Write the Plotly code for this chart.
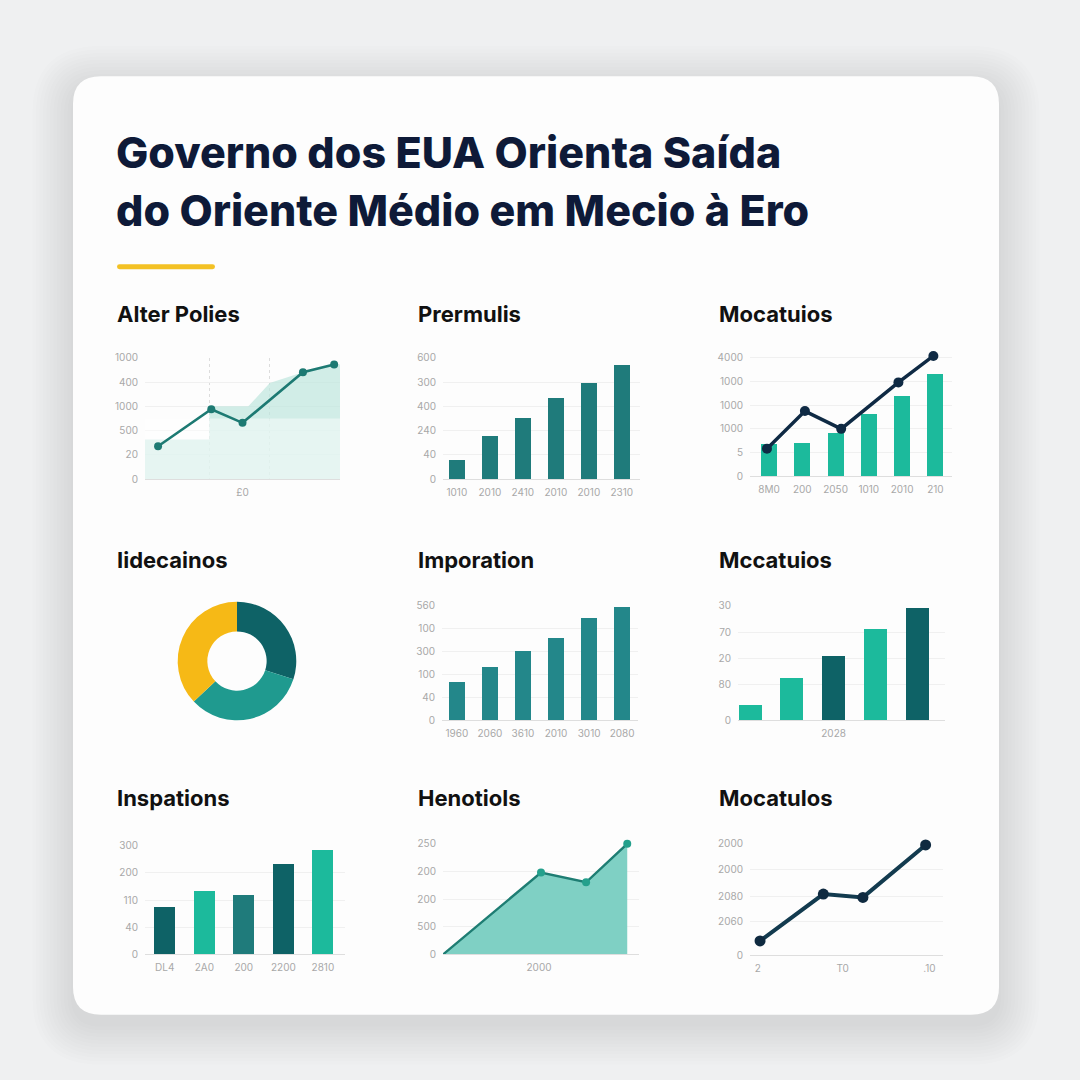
import plotly.graph_objects as go

# ---------------- data ----------------
title_lines = ["Governo dos EUA Orienta Saída", "do Oriente Médio em Mecio à Ero"]
panel_titles = ["Alter Polies", "Prermulis", "Mocatuios",
                "Iidecainos", "Imporation", "Mccatuios",
                "Inspations", "Henotiols", "Mocatulos"]

# Panel 1: line + stepped area
p1_x = [0.67, 3.4, 5.0, 8.1, 9.7]
p1_y = [272, 576, 464, 880, 944]
p1_area_x = [0, 3.3, 3.3, 5.3, 6.4, 8.1, 9.7, 10]
p1_area_y = [328, 328, 600, 600, 792, 880, 944, 944]
p1_band_x = [0, 10]
p1_band_y = [500, 500]
p1_ytickvals = [0, 200, 400, 600, 800, 1000]
p1_yticktext = ["0", "20", "500", "1000", "400", "1000"]
p1_xtickvals = [5.0]
p1_xticktext = ["£0"]
p1_vgrid = [3.3, 6.4]

# Panel 2: bars
p2_cats = [0, 1, 2, 3, 4, 5]
p2_vals = [160, 360, 504, 672, 792, 944]
p2_xticktext = ["1010", "2010", "2410", "2010", "2010", "2310"]
p2_ytickvals = [0, 200, 400, 600, 800, 1000]
p2_yticktext = ["0", "40", "240", "400", "300", "600"]

# Panel 3: bars + line
p3_cats = [0, 1, 2, 3, 4, 5]
p3_vals = [267, 275, 358, 525, 675, 858]
p3_line_x = [-0.06, 1.08, 2.17, 3.89, 4.94]
p3_line_y = [233, 550, 400, 792, 1015]
p3_xticktext = ["8M0", "200", "2050", "1010", "2010", "210"]
p3_ytickvals = [0, 200, 400, 600, 800, 1000]
p3_yticktext = ["0", "5", "1000", "1000", "1000", "4000"]

# Panel 4: donut
p4_labels = ["A", "B", "C"]
p4_vals = [30, 33, 37]

# Panel 5: bars
p5_cats = [0, 1, 2, 3, 4, 5]
p5_vals = [333, 470, 607, 718, 898, 992]
p5_xticktext = ["1960", "2060", "3610", "2010", "3010", "2080"]
p5_ytickvals = [0, 200, 400, 600, 800, 1000]
p5_yticktext = ["0", "40", "100", "300", "100", "560"]

# Panel 6: bars
p6_cats = [0, 1, 2, 3, 4]
p6_vals = [14, 37, 56, 80, 98]
p6_xtickvals = [2]
p6_xticktext = ["2028"]
p6_ytickvals = [0, 31, 54, 77, 100]
p6_yticktext = ["0", "80", "20", "70", "30"]

# Panel 7: bars
p7_cats = [0, 1, 2, 3, 4]
p7_vals = [175, 233, 218, 335, 385]
p7_xticktext = ["DL4", "2A0", "200", "2200", "2810"]
p7_ytickvals = [0, 100, 200, 300, 400]
p7_yticktext = ["0", "40", "110", "200", "300"]

# Panel 8: area
p8_x = [0, 5.0, 7.3, 9.4]
p8_y = [0, 296, 261, 400]
p8_xtickvals = [4.9]
p8_xticktext = ["2000"]
p8_ytickvals = [0, 100, 200, 300, 400]
p8_yticktext = ["0", "500", "200", "200", "250"]

# Panel 9: line
p9_x = [0.52, 3.8, 5.85, 9.1]
p9_y = [13, 55, 52, 99]
p9_xtickvals = [0.4, 4.8, 9.3]
p9_xticktext = ["2", "T0", ".10"]
p9_ytickvals = [0, 30, 53, 77, 100]
p9_yticktext = ["0", "2060", "2080", "2000", "2000"]

# ---------------- styling ----------------
W = H = 1080
FONT = "Inter, Lato, 'Noto Sans', sans-serif"
TICK_FONT = dict(family=FONT, size=10, color="#a8a8a8")
GRID = "#f0f0f0"
AXLINE = "#dedede"

DARK = "#0e6266"
MID = "#1f7b7b"
MID2 = "#23878a"
LIGHT = "#1cba9c"
NAVY = "#0f2a44"


def dom(x0, x1, yt, yb):
    return [x0 / W, x1 / W], [1 - yb / H, 1 - yt / H]


fig = go.Figure()
layout_axes = {}


def add_axes(i, box, xr, yr, xtv, xtt, ytv, ytt, extra_x=None):
    xd, yd = dom(*box)
    xa = dict(domain=xd, range=xr, anchor=f"y{i}", tickmode="array", tickvals=xtv, ticktext=xtt,
              showgrid=False, zeroline=False, showline=True, linecolor=AXLINE, linewidth=1,
              ticks="", tickfont=TICK_FONT, fixedrange=True, ticklabelstandoff=4)
    if extra_x:
        xa.update(extra_x)
    ya = dict(domain=yd, range=yr, anchor=f"x{i}", tickmode="array", tickvals=ytv, ticktext=ytt,
              showgrid=True, gridcolor=GRID, gridwidth=1, zeroline=False, showline=False,
              ticks="", tickfont=TICK_FONT, fixedrange=True, ticklabelstandoff=6)
    layout_axes[f"xaxis{i}"] = xa
    layout_axes[f"yaxis{i}"] = ya


# Panel 1
add_axes(1, (145, 340, 355, 478), [0, 10], [0, 1000], p1_xtickvals, p1_xticktext,
         p1_ytickvals, p1_yticktext,
         extra_x=dict(minor=dict(tickmode="array", tickvals=p1_vgrid, showgrid=True,
                                 gridcolor="#dcdcdc", griddash="dot", gridwidth=1, ticks="")))
fig.add_trace(go.Scatter(x=p1_area_x, y=p1_area_y, mode="lines", fill="tozeroy",
                         fillcolor="rgba(190,229,221,0.7)", line=dict(width=0),
                         xaxis="x1", yaxis="y1", hoverinfo="skip"))
fig.add_trace(go.Scatter(x=p1_band_x, y=p1_band_y, mode="lines", fill="tozeroy",
                         fillcolor="rgba(255,255,255,0.45)", line=dict(width=0),
                         xaxis="x1", yaxis="y1", hoverinfo="skip"))
fig.add_trace(go.Scatter(x=p1_x, y=p1_y, mode="lines+markers",
                         line=dict(color="#1d7a73", width=2.6),
                         marker=dict(color="#1d7a73", size=8), cliponaxis=False,
                         xaxis="x1", yaxis="y1"))

# Panel 2
add_axes(2, (443, 640, 355, 478), [-0.42, 5.55], [0, 1000], p2_cats, p2_xticktext,
         p2_ytickvals, p2_yticktext)
fig.add_trace(go.Bar(x=p2_cats, y=p2_vals, width=0.48, marker=dict(color=MID, line=dict(width=0)),
                     xaxis="x2", yaxis="y2"))

# Panel 3
add_axes(3, (750, 952, 352.6, 475), [-0.57, 5.5], [0, 1020], p3_cats, p3_xticktext,
         p3_ytickvals, p3_yticktext)
fig.add_trace(go.Bar(x=p3_cats, y=p3_vals, width=0.48, marker=dict(color=LIGHT, line=dict(width=0)),
                     xaxis="x3", yaxis="y3"))
fig.add_trace(go.Scatter(x=p3_line_x, y=p3_line_y, mode="lines+markers",
                         line=dict(color=NAVY, width=3.5),
                         marker=dict(color=NAVY, size=10), cliponaxis=False,
                         xaxis="x3", yaxis="y3"))

# Panel 4 donut
pd_x, pd_y = dom(177, 297, 602, 722)
fig.add_trace(go.Pie(labels=p4_labels, values=p4_vals, hole=0.5, sort=False,
                     direction="clockwise", rotation=0, textinfo="none",
                     marker=dict(colors=[DARK, "#1f9a8f", "#f6b916"], line=dict(width=0)),
                     domain=dict(x=pd_x, y=pd_y), showlegend=False))

# Panel 5
add_axes(5, (442, 638, 606, 722), [-0.45, 5.48], [0, 1000], p5_cats, p5_xticktext,
         p5_ytickvals, p5_yticktext)
fig.add_trace(go.Bar(x=p5_cats, y=p5_vals, width=0.48, marker=dict(color=MID2, line=dict(width=0)),
                     xaxis="x5", yaxis="y5"))

# Panel 6
add_axes(6, (738, 945, 606, 722), [-0.29, 4.67], [0, 100], p6_xtickvals, p6_xticktext,
         p6_ytickvals, p6_yticktext)
fig.add_trace(go.Bar(x=p6_cats, y=p6_vals, width=0.55,
                     marker=dict(color=[LIGHT, LIGHT, DARK, LIGHT, DARK], line=dict(width=0)),
                     xaxis="x6", yaxis="y6"))

# Panel 7
add_axes(7, (145, 345, 849, 959), [-0.5, 4.56], [0, 400], p7_cats, p7_xticktext,
         p7_ytickvals, p7_yticktext)
fig.add_trace(go.Bar(x=p7_cats, y=p7_vals, width=0.53,
                     marker=dict(color=[DARK, LIGHT, MID, DARK, LIGHT], line=dict(width=0)),
                     xaxis="x7", yaxis="y7"))

# Panel 8
add_axes(8, (443, 639, 847, 959), [0, 10], [0, 400], p8_xtickvals, p8_xticktext,
         p8_ytickvals, p8_yticktext)
fig.add_trace(go.Scatter(x=p8_x, y=p8_y, mode="lines", fill="tozeroy",
                         fillcolor="#7fd0c4", line=dict(color="#1e7d73", width=2.4),
                         xaxis="x8", yaxis="y8", hoverinfo="skip"))
fig.add_trace(go.Scatter(x=p8_x[1:], y=p8_y[1:], mode="markers",
                         marker=dict(color="#24a08c", size=8), cliponaxis=False,
                         xaxis="x8", yaxis="y8"))

# Panel 9
add_axes(9, (750, 943, 847, 960), [0, 10], [0, 100], p9_xtickvals, p9_xticktext,
         p9_ytickvals, p9_yticktext)
fig.add_trace(go.Scatter(x=p9_x, y=p9_y, mode="lines+markers",
                         line=dict(color="#133b4f", width=4),
                         marker=dict(color="#0f2a40", size=11), cliponaxis=False,
                         xaxis="x9", yaxis="y9"))


# ---------------- card / decorations ----------------
def rrect_path(x0, y0, x1, y1, r):
    X = lambda v: v / W
    Y = lambda v: 1 - v / H
    return (f"M {X(x0 + r)},{Y(y0)} L {X(x1 - r)},{Y(y0)} Q {X(x1)},{Y(y0)} {X(x1)},{Y(y0 + r)} "
            f"L {X(x1)},{Y(y1 - r)} Q {X(x1)},{Y(y1)} {X(x1 - r)},{Y(y1)} "
            f"L {X(x0 + r)},{Y(y1)} Q {X(x0)},{Y(y1)} {X(x0)},{Y(y1 - r)} "
            f"L {X(x0)},{Y(y0 + r)} Q {X(x0)},{Y(y0)} {X(x0 + r)},{Y(y0)} Z")


shapes = []
for k in range(12):
    e = 2 + k * 3.5
    shapes.append(dict(type="path", xref="paper", yref="paper", layer="below",
                       path=rrect_path(73 - e, 70 - e + 10, 999 + e, 1020 + e + 10, 28 + e),
                       fillcolor="rgba(100,105,115,0.011)", line=dict(width=0)))
shapes.append(dict(type="path", xref="paper", yref="paper", layer="below",
                   path=rrect_path(73, 70, 999, 1020, 28),
                   fillcolor="#fdfdfd", line=dict(width=0)))
# yellow accent
shapes.append(dict(type="path", xref="paper", yref="paper", layer="below",
                   path=rrect_path(117, 260.5, 215, 265.5, 2.5),
                   fillcolor="#f3c124", line=dict(width=0)))

annotations = []
for line, cy in zip(title_lines, (152, 210)):
    annotations.append(dict(text=line, x=114 / W, y=1 - (cy - 5) / H, xref="paper",
                            yref="paper", xanchor="left", yanchor="middle", showarrow=False,
                            font=dict(family=FONT, size=43, weight=800, color="#0e1a38")))

title_pos = [(117, 314), (418, 314), (719, 314),
             (117, 563), (418, 563), (719, 563),
             (117, 804), (418, 804), (719, 804)]
for t, (tx, ty) in zip(panel_titles, title_pos):
    annotations.append(dict(text=t, x=(tx - 2) / W, y=1 - (ty - 3) / H, xref="paper", yref="paper",
                            xanchor="left", yanchor="middle", showarrow=False,
                            font=dict(family=FONT, size=22, weight=700, color="#111111")))

fig.update_layout(
    width=W, height=H, margin=dict(l=0, r=0, t=0, b=0),
    paper_bgcolor="#eff0f1", plot_bgcolor="rgba(0,0,0,0)",
    showlegend=False, bargap=0, shapes=shapes, annotations=annotations,
    **layout_axes,
)

fig.write_html("out.html", config={"displayModeBar": False},
               post_script="document.body.style.margin='0';document.body.style.overflow='hidden';")
